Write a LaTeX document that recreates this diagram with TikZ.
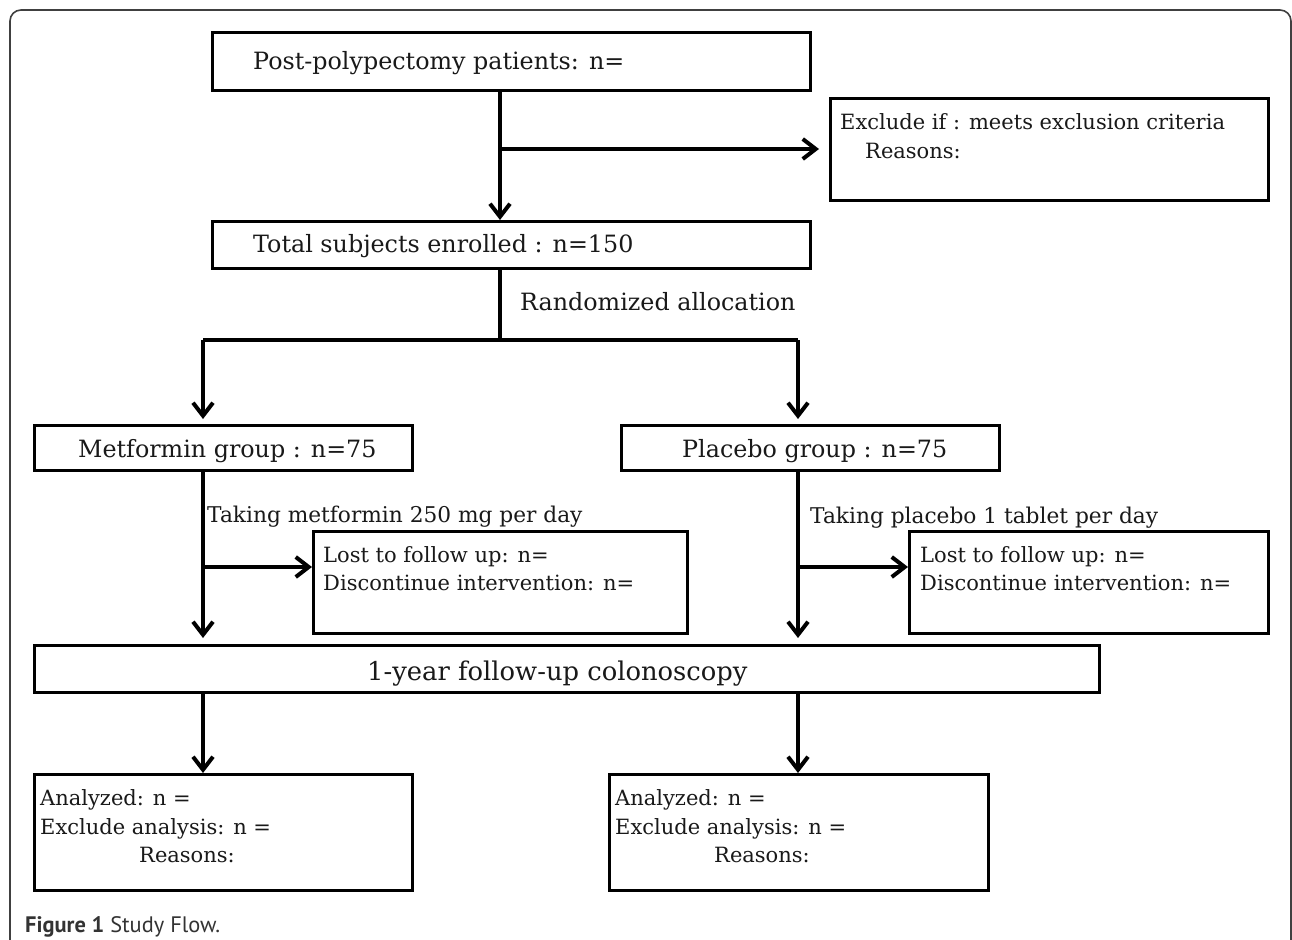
\documentclass[tikz,border=0pt]{standalone}
\usepackage{fontspec}
\setmainfont{DejaVu Serif}
\newfontfamily\capfont{PT Sans}
\usetikzlibrary{arrows.meta}
\begin{document}
\begin{tikzpicture}[x=1pt,y=-1pt,
  box/.style={draw=black, line width=3.2pt, inner sep=0pt, anchor=north west},
  txt/.style={inner sep=0pt, anchor=base west, text=black!90},
  big/.style={txt, font=\fontsize{23.8}{28}\selectfont},
  huge/.style={txt, font=\fontsize{25.8}{30}\selectfont},
  mid/.style={txt, font=\fontsize{21.7}{26}\selectfont},
  sml/.style={txt, font=\fontsize{21}{25}\selectfont},
  link/.style={line width=4pt},
  arr/.style={line width=4pt, -{Straight Barb[length=13pt,width=20pt]}}
]
\useasboundingbox (0,0) rectangle (1292,939);
\clip (0,0) rectangle (1292,939);
\fill[white] (0,0) rectangle (1292,939);
% outer frame
\draw[line width=1.6pt, black!75, rounded corners=11pt] (10,960) -- (10,10) -- (1291,10) -- (1291,960);

% boxes
\node[box, minimum width=598pt, minimum height=58pt] (b1) at (211,31) {};
\node[box, minimum width=438pt, minimum height=102pt] (excl) at (829,97) {};
\node[box, minimum width=598pt, minimum height=47pt] (tot) at (211,220) {};
\node[box, minimum width=378pt, minimum height=45pt] (met) at (33,424) {};
\node[box, minimum width=378pt, minimum height=45pt] (pla) at (620,424) {};
\node[box, minimum width=374pt, minimum height=102pt] (lostL) at (312,530) {};
\node[box, minimum width=359pt, minimum height=102pt] (lostR) at (908,530) {};
\node[box, minimum width=1065pt, minimum height=47pt] (fu) at (33,644) {};
\node[box, minimum width=378pt, minimum height=116pt] (anL) at (33,773) {};
\node[box, minimum width=379pt, minimum height=116pt] (anR) at (608,773) {};

% texts
\node[big] (t1) at (253,70) {Post-polypectomy patients: n=};
\node[sml] (tex1) at (840,129) {Exclude if : meets exclusion criteria};
\node[sml] (tex2) at (865,158) {Reasons:};
\node[big] (ttot) at (253,252) {Total subjects enrolled : n=150};
\node[big] (trand) at (520,310) {Randomized allocation};
\node[big] (tmet) at (78,457) {Metformin group : n=75};
\node[big] (tpla) at (682,457) {Placebo group : n=75};
\node[mid] (ttm) at (207,522) {Taking metformin 250 mg per day};
\node[mid] (ttp) at (810,523) {Taking placebo 1 tablet per day};
\node[sml] (tl1) at (323,562) {Lost to follow up: n=};
\node[sml] (tl2) at (323,590) {Discontinue intervention: n=};
\node[sml] (tr1) at (920,562) {Lost to follow up: n=};
\node[sml] (tr2) at (920,590) {Discontinue intervention: n=};
\node[huge] (tfu) at (367,680) {1-year follow-up colonoscopy};
\node[sml] (ta1) at (40,805) {Analyzed: n =};
\node[sml] (ta2) at (40,834) {Exclude analysis: n =};
\node[sml] (ta3) at (139,862) {Reasons:};
\node[sml] (tb1) at (615,805) {Analyzed: n =};
\node[sml] (tb2) at (615,834) {Exclude analysis: n =};
\node[sml] (tb3) at (714,862) {Reasons:};

% caption
\node[inner sep=0pt, anchor=base west, text=black!80, font=\capfont\fontsize{22.4}{26}\selectfont] (cap) at (25,932) {\textbf{Figure 1} Study Flow.};

% junction coordinates
\coordinate (j1) at (500,149);
\coordinate (r) at (500,340);
\coordinate (mL) at (203,340);
\coordinate (mR) at (798,340);
\coordinate (bL) at (203,567);
\coordinate (bR) at (798,567);

% connectors
\draw[arr] (b1.south -| j1) -- (tot.north -| j1);
\draw[arr, shorten >=10pt] (j1) -- (excl.west |- j1);
\draw[link] (tot.south -| r) -- (r);
\draw[link] (mL) -- (mR);
\draw[arr, shorten >=5pt] (mL) -- (met.north -| mL);
\draw[arr, shorten >=5pt] (mR) -- (pla.north -| mR);
\draw[arr, shorten >=6pt] (met.south -| mL) -- (fu.north -| mL);
\draw[arr, shorten >=6pt] (pla.south -| mR) -- (fu.north -| mR);
\draw[arr] (bL) -- (lostL.west |- bL);
\draw[arr] (bR) -- (lostR.west |- bR);
\draw[arr] (fu.south -| mL) -- (anL.north -| mL);
\draw[arr] (fu.south -| mR) -- (anR.north -| mR);
\end{tikzpicture}
\end{document}
